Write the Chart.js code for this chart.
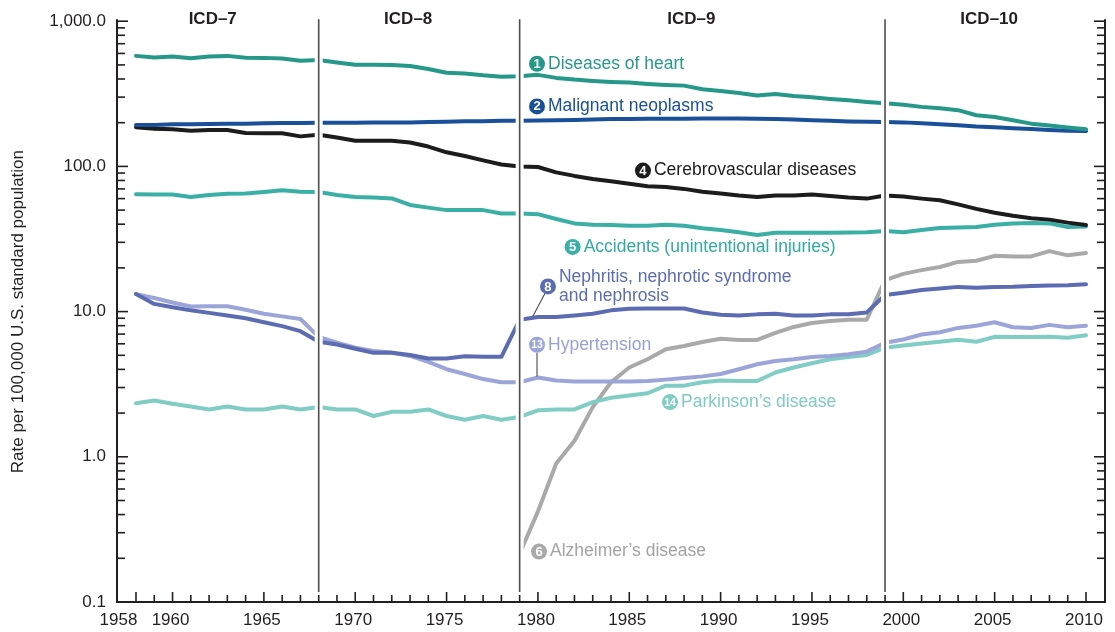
<!DOCTYPE html>
<html>
<head>
<meta charset="utf-8">
<script src="https://cdn.jsdelivr.net/npm/chart.js@4.4.1/dist/chart.umd.min.js"></script>
<style>
  html, body { margin: 0; padding: 0; background: #ffffff; }
  #wrap { width: 1115px; height: 632px; }
</style>
</head>
<body>
<div id="wrap"><canvas id="chart" width="1115" height="632"></canvas></div>
<script>
// Age-adjusted death rates per 100,000 U.S. standard population, 1958-2010
const years = [1958,1959,1960,1961,1962,1963,1964,1965,1966,1967,
  1968,1969,1970,1971,1972,1973,1974,1975,1976,1977,1978,
  1979,1980,1981,1982,1983,1984,1985,1986,1987,1988,1989,1990,1991,1992,1993,1994,1995,1996,1997,1998,
  1999,2000,2001,2002,2003,2004,2005,2006,2007,2008,2009,2010];

const heartDisease = [577,562,571,555,571,577,560,559,553,534,
  540,520,501,501,500,491,469,442,437,424,415,
  417,427,407,396,388,382,378,370,364,360,340,330,320,308,315,305,299,291,285,278,
  272,266,257,251,244,225,219,208,197,191,185,180];

const malignantNeoplasms = [193,193,195,195,196,197,197,198,199,199,
  200,200,200,201,201,201,202,203,205,205,206,
  206,207,208,209,210,212,212,213,213,213,214,214,214,213,212,210,208,206,204,203,
  202,201,198,195,192,188,186,183,181,178,176,175];

const cerebrovascular = [186,182,180,176,178,178,170,169,169,161,
  165,158,150,150,150,146,137,125,118,110,103,
  100,99,91,86,82,79,76,73,72,70,67,65,63,61.5,63,63,64,62.5,61,60,
  63,62,60,58.4,54.8,51,48,45.7,44,43,41,39.5];

const accidents = [64.2,64,64,61.5,63.5,64.9,65,66.6,68.4,67,
  66.6,63.5,61.5,61,60.2,54.3,52,50,50,50,47.4,
  47.4,46.9,43.4,40.5,39.7,39.5,39,39,39.6,39,37.5,36.5,35.2,33.7,34.9,34.9,34.9,34.9,35,35.2,
  35.9,35.2,36.5,37.7,38,38.3,39.7,40.5,40.7,40.5,38.3,38.5];

const alzheimers = [null,null,null,null,null,null,null,null,null,null,
  null,null,null,null,null,null,null,null,null,null,null,
  0.215,0.42,0.9,1.29,2.2,3.26,4.12,4.7,5.5,5.8,6.17,6.5,6.38,6.38,7.14,7.84,8.35,8.6,8.8,8.8,
  16.5,18.2,19.3,20.3,22,22.4,24.2,24,24,26.1,24.4,25.3];

const nephritis = [13.2,11.3,10.7,10.2,9.8,9.4,9.0,8.45,7.94,7.33,
  6.2,5.94,5.55,5.2,5.2,5.03,4.75,4.75,4.92,4.88,4.88,
  8.8,9.17,9.17,9.4,9.66,10.2,10.45,10.5,10.5,10.5,9.87,9.5,9.4,9.57,9.66,9.4,9.4,9.57,9.6,9.87,
  13.0,13.5,14.1,14.45,14.8,14.6,14.8,14.85,15.0,15.15,15.2,15.4];

const hypertension = [13.2,12.4,11.55,10.85,10.9,10.9,10.3,9.66,9.27,8.9,
  6.7,6.1,5.64,5.36,5.22,4.95,4.5,4.01,3.72,3.43,3.26,
  3.26,3.52,3.35,3.3,3.3,3.3,3.3,3.33,3.4,3.49,3.58,3.72,4.01,4.34,4.57,4.7,4.87,4.95,5.08,5.3,
  6.1,6.43,6.95,7.2,7.72,8.0,8.44,7.8,7.72,8.1,7.8,8.0];

const parkinsons = [2.34,2.44,2.32,2.22,2.12,2.22,2.12,2.12,2.22,2.12,
  2.2,2.12,2.12,1.91,2.04,2.04,2.12,1.91,1.8,1.91,1.8,
  1.88,2.09,2.12,2.12,2.38,2.55,2.64,2.74,3.09,3.09,3.26,3.35,3.33,3.33,3.81,4.12,4.41,4.7,4.87,5.03,
  5.64,5.85,6.04,6.2,6.4,6.2,6.7,6.68,6.68,6.7,6.6,6.88];

// Axis ticks
const yTickValues = [0.1, 1, 10, 100, 1000];
const yTickLabels = ['0.1', '1.0', '10.0', '100.0', '1,000.0'];
const xTickValues = [1958,1960,1965,1970,1975,1980,1985,1990,1995,2000,2005,2010];
const xTickLabels = ['1958','1960','1965','1970','1975','1980','1985','1990','1995','2000','2005','2010'];

// Classification revisions: first year of each ICD
const icdBreaks = [1968, 1979, 1999];
const icdNames = ['ICD\u20137', 'ICD\u20138', 'ICD\u20139', 'ICD\u201310'];

const FONT = '"Liberation Sans", Arial, Helvetica, sans-serif';
const INK = '#231f20';

const colors = {
  heart: '#26988a',
  cancer: '#1a4f9a',
  stroke: '#1c1c1c',
  accidents: '#3aafa5',
  alzheimers: '#a9a9a9',
  nephritis: '#5b6cb2',
  hypertension: '#9ca5d8',
  parkinsons: '#80cdc5'
};

const series = [
  { name: 'Diseases of heart', values: heartDisease, color: colors.heart },
  { name: 'Malignant neoplasms', values: malignantNeoplasms, color: colors.cancer },
  { name: 'Cerebrovascular diseases', values: cerebrovascular, color: colors.stroke },
  { name: 'Accidents (unintentional injuries)', values: accidents, color: colors.accidents },
  { name: 'Nephritis, nephrotic syndrome and nephrosis', values: nephritis, color: colors.nephritis },
  { name: 'Hypertension', values: hypertension, color: colors.hypertension },
  { name: 'Parkinson\u2019s disease', values: parkinsons, color: colors.parkinsons },
  { name: 'Alzheimer\u2019s disease', values: alzheimers, color: colors.alzheimers }
];

// Placement of the ICD headings and the numbered series labels (data units)
const icdHeadingYears = [1962.2, 1972.9, 1988.4, 2004.7];
const seriesTags = [
  { num: '1', lines: ['Diseases of heart'], year: 1979.95, value: 509, fill: colors.heart, text: colors.heart },
  { num: '2', lines: ['Malignant neoplasms'], year: 1979.95, value: 259, fill: colors.cancer, text: colors.cancer },
  { num: '4', lines: ['Cerebrovascular diseases'], year: 1985.75, value: 93.6, fill: colors.stroke, text: colors.stroke },
  { num: '5', lines: ['Accidents (unintentional injuries)'], year: 1981.9, value: 27.9, fill: colors.accidents, text: '#30aba2' },
  { num: '8', lines: ['Nephritis, nephrotic syndrome', 'and nephrosis'], year: 1980.55, value: 14.9, fill: colors.nephritis, text: colors.nephritis,
    leader: [[1980.39, 13.37], [1979.73, 9.32]] },
  { num: '13', lines: ['Hypertension'], year: 1979.95, value: 5.91, fill: colors.hypertension, text: '#98a1d5',
    leader: [[1979.95, 5.21], [1979.95, 3.58]] },
  { num: '14', lines: ['Parkinson\u2019s disease'], year: 1987.23, value: 2.38, fill: colors.parkinsons, text: '#7fcbc3' },
  { num: '6', lines: ['Alzheimer\u2019s disease'], year: 1980.06, value: 0.2226, fill: colors.alzheimers, text: '#a4a4a4' }
];

function seg(ctx, x1, y1, x2, y2) {
  ctx.beginPath();
  ctx.moveTo(x1, y1);
  ctx.lineTo(x2, y2);
  ctx.stroke();
}

const framePlugin = {
  id: 'frame',
  afterDatasetsDraw(chart) {
    const { ctx, chartArea: a, scales } = chart;
    const xs = scales.x, ys = scales.y;
    ctx.save();

    // era dividers with a white gap around them
    icdBreaks.forEach(b => {
      const px = xs.getPixelForValue(b);
      ctx.lineCap = 'butt';
      ctx.strokeStyle = '#ffffff';
      ctx.lineWidth = 8;
      seg(ctx, px, a.top - 2, px, a.bottom - 10);
      ctx.strokeStyle = '#4d4d4d';
      ctx.lineWidth = 1.6;
      seg(ctx, px, a.top - 2, px, a.bottom - 10);
    });

    // axis frame (left, bottom, right)
    ctx.strokeStyle = INK;
    ctx.lineWidth = 2;
    ctx.beginPath();
    ctx.moveTo(a.left, a.top - 2);
    ctx.lineTo(a.left, a.bottom);
    ctx.lineTo(a.right, a.bottom);
    ctx.lineTo(a.right, a.top - 2);
    ctx.stroke();

    // y ticks, pointing inward on both sides
    ctx.lineWidth = 1.6;
    for (let d = 0.1; d < 1001; d *= 10) {
      for (let m = 1; m <= 9; m++) {
        const v = Math.round(d * m * 1000) / 1000;
        if (v > 1000) break;
        const py = ys.getPixelForValue(v);
        const len = m === 1 ? 11 : 8;
        seg(ctx, a.left, py, a.left + len, py);
        seg(ctx, a.right - len, py, a.right, py);
      }
    }

    // x ticks, one per year, pointing up
    for (let yr = years[0]; yr <= years[years.length - 1]; yr++) {
      const px = xs.getPixelForValue(yr);
      const len = (yr % 5 === 0 || yr === years[0]) ? 10 : 7;
      seg(ctx, px, a.bottom, px, a.bottom - len);
    }

    // x tick labels
    ctx.fillStyle = INK;
    ctx.font = '17px ' + FONT;
    ctx.textAlign = 'center';
    ctx.textBaseline = 'middle';
    xTickValues.forEach((v, i) => {
      const shift = i === 0 ? -17.5 : -2;
      ctx.fillText(xTickLabels[i], xs.getPixelForValue(v) + shift, a.bottom + 18);
    });

    // ICD headings
    ctx.font = 'bold 17px ' + FONT;
    icdNames.forEach((name, i) => {
      ctx.fillText(name, xs.getPixelForValue(icdHeadingYears[i]), 19);
    });

    // numbered series labels
    seriesTags.forEach(t => {
      const cx = xs.getPixelForValue(t.year);
      const cy = ys.getPixelForValue(t.value);
      if (t.leader) {
        ctx.strokeStyle = '#4a4a4a';
        ctx.lineWidth = 1.1;
        seg(ctx, xs.getPixelForValue(t.leader[0][0]), ys.getPixelForValue(t.leader[0][1]),
                 xs.getPixelForValue(t.leader[1][0]), ys.getPixelForValue(t.leader[1][1]));
      }
      const r = 8;
      ctx.fillStyle = t.fill;
      ctx.beginPath();
      ctx.arc(cx, cy, r, 0, Math.PI * 2);
      ctx.fill();
      ctx.fillStyle = '#ffffff';
      ctx.textAlign = 'center';
      ctx.font = (t.num.length > 1 ? 'bold 10.5px ' : 'bold 13px ') + FONT;
      ctx.fillText(t.num, cx, cy + 0.5);

      ctx.fillStyle = t.text;
      ctx.textAlign = 'left';
      ctx.font = '17.5px ' + FONT;
      const lh = 19;
      const y0 = cy - (t.lines.length - 1) * lh / 2;
      t.lines.forEach((ln, k) => ctx.fillText(ln, cx + 11, y0 + k * lh));
    });

    ctx.restore();
  }
};

new Chart(document.getElementById('chart'), {
  type: 'line',
  data: {
    datasets: series.map(s => ({
      label: s.name,
      data: years.map((yr, i) => ({ x: yr, y: s.values[i] })),
      borderColor: s.color,
      backgroundColor: s.color,
      borderWidth: 4,
      pointRadius: 0,
      pointHoverRadius: 0,
      tension: 0,
      fill: false,
      spanGaps: false,
      borderCapStyle: 'round',
      borderJoinStyle: 'round'
    }))
  },
  options: {
    responsive: false,
    devicePixelRatio: 1,
    animation: false,
    layout: { padding: { top: 15, right: 10, bottom: 0, left: 0 } },
    plugins: { legend: { display: false }, tooltip: { enabled: false } },
    scales: {
      x: {
        type: 'linear',
        min: 1956.96,
        max: 2011.04,
        grid: { display: false, drawTicks: false },
        border: { display: false },
        ticks: { display: false },
        afterFit(s) { s.height = 30; }
      },
      y: {
        type: 'logarithmic',
        min: 0.1,
        max: 1000,
        grid: { display: false, drawTicks: false },
        border: { display: false },
        afterBuildTicks(s) { s.ticks = yTickValues.map(v => ({ value: v })); },
        ticks: {
          autoSkip: false,
          padding: 11,
          color: INK,
          font: { family: FONT, size: 17 },
          callback(v) {
            const i = yTickValues.indexOf(v);
            return i < 0 ? '' : yTickLabels[i];
          }
        },
        title: {
          display: true,
          text: 'Rate per 100,000 U.S. standard population',
          color: INK,
          font: { family: FONT, size: 17 },
          padding: { top: 8, bottom: 0 }
        },
        afterFit(s) { s.width = 117; }
      }
    }
  },
  plugins: [framePlugin]
});
</script>
</body>
</html>
